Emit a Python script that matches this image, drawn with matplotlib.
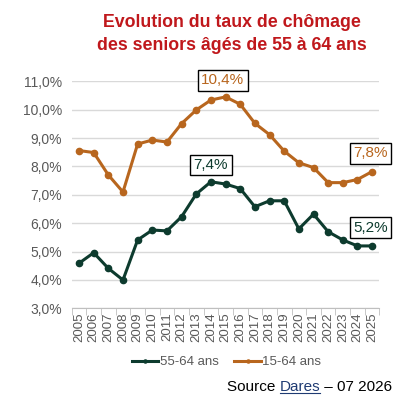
import numpy as np
import matplotlib.pyplot as plt
from matplotlib.ticker import FixedLocator

plt.rcParams['font.family'] = ['Liberation Sans', 'DejaVu Sans']

years = [str(y) for y in range(2005, 2026)]
seniors = [4.59, 4.96, 4.41, 4.00, 5.41, 5.76, 5.73, 6.23, 7.03, 7.46, 7.38,
           7.22, 6.58, 6.79, 6.79, 5.80, 6.32, 5.70, 5.41, 5.20, 5.20]
all_ages = [8.56, 8.49, 7.70, 7.10, 8.79, 8.93, 8.86, 9.51, 9.99, 10.34, 10.45,
            10.19, 9.52, 9.12, 8.54, 8.13, 7.96, 7.43, 7.43, 7.54, 7.82]
y_ticks = [3, 4, 5, 6, 7, 8, 9, 10, 11]

green = '#0D3B2E'
orange = '#B8661E'
grey = '#595959'
W, H = 412, 419

fig = plt.figure(figsize=(W / 100, H / 100), dpi=100)
ax = fig.add_axes([0.174, 0.264, 0.747, 0.542])

x = np.arange(len(years))
ax.plot(x, seniors, color=green, lw=2.2, marker='o', ms=4.5, label='55-64 ans', zorder=3)
ax.plot(x, all_ages, color=orange, lw=2.2, marker='o', ms=4.5, label='15-64 ans', zorder=3)

ax.set_xlim(-0.5, len(years) - 0.5)
ax.set_ylim(3, 11)
ax.set_yticks(y_ticks)
ax.set_yticklabels([f'{v:.1f}%'.replace('.', ',') for v in y_ticks], color=grey, fontsize=10)
ax.set_xticks(x)
ax.set_xticklabels(years, rotation=90, color=grey, fontsize=9.5)
ax.xaxis.set_minor_locator(FixedLocator(np.arange(-0.5, len(years), 1)))
ax.tick_params(axis='x', which='major', length=0, pad=3)
ax.tick_params(axis='x', which='minor', length=5, color='#BFBFBF')
ax.tick_params(axis='y', length=0, pad=7)
ax.grid(axis='y', color='#D9D9D9', lw=1)
ax.set_axisbelow(True)
for s in ['top', 'right', 'left']:
    ax.spines[s].set_visible(False)
ax.spines['bottom'].set_color('#BFBFBF')

# value labels
box = dict(boxstyle='square,pad=0.22', fc='white', ec='black', lw=1)
ax.annotate('10,4%', (10, all_ages[10]), xytext=(-2, 7), textcoords='offset points',
            ha='center', va='bottom', fontsize=11, color=orange, bbox=box)
ax.annotate('7,4%', (9, seniors[9]), xytext=(0, 7), textcoords='offset points',
            ha='center', va='bottom', fontsize=11, color=green, bbox=box)
ax.annotate('7,8%', (20, all_ages[20]), xytext=(-1, 8), textcoords='offset points',
            ha='center', va='bottom', fontsize=11, color=orange, bbox=box)
ax.annotate('5,2%', (20, seniors[20]), xytext=(-1, 8), textcoords='offset points',
            ha='center', va='bottom', fontsize=11, color=green, bbox=box)

fig.text(0.563, 1 - 34 / H, 'Evolution du taux de chômage\ndes seniors âgés de 55 à 64 ans',
         ha='center', va='center', fontsize=12.8, fontweight='bold', color='#C0181C',
         linespacing=1.4)

leg = fig.legend(loc='center', bbox_to_anchor=(0.55, 1 - 362 / H), ncol=2, frameon=False,
                 fontsize=9.5, handlelength=2.0, columnspacing=1.2, handletextpad=0.1,
                 markerscale=0.5)
for t in leg.get_texts():
    t.set_color(grey)

# source line: "Source Dares – 07 2026" with Dares underlined
y_src = 1 - 387 / H
r = fig.canvas.get_renderer()
t1 = fig.text(227 / W, y_src, 'Source ', ha='left', va='center', fontsize=11, color='black')
x1 = t1.get_window_extent(r).x1
t2 = fig.text(x1 / W, y_src, 'Dares', ha='left', va='center', fontsize=11, color='#1F3B73')
bb = t2.get_window_extent(r)
fig.add_artist(plt.Line2D([bb.x0 / W, bb.x1 / W], [(bb.y0 + 1) / H] * 2,
                          color='#1F3B73', lw=0.8))
fig.text(bb.x1 / W, y_src, ' – 07 2026', ha='left', va='center', fontsize=11, color='black')

fig.savefig('out.png', dpi=100)
